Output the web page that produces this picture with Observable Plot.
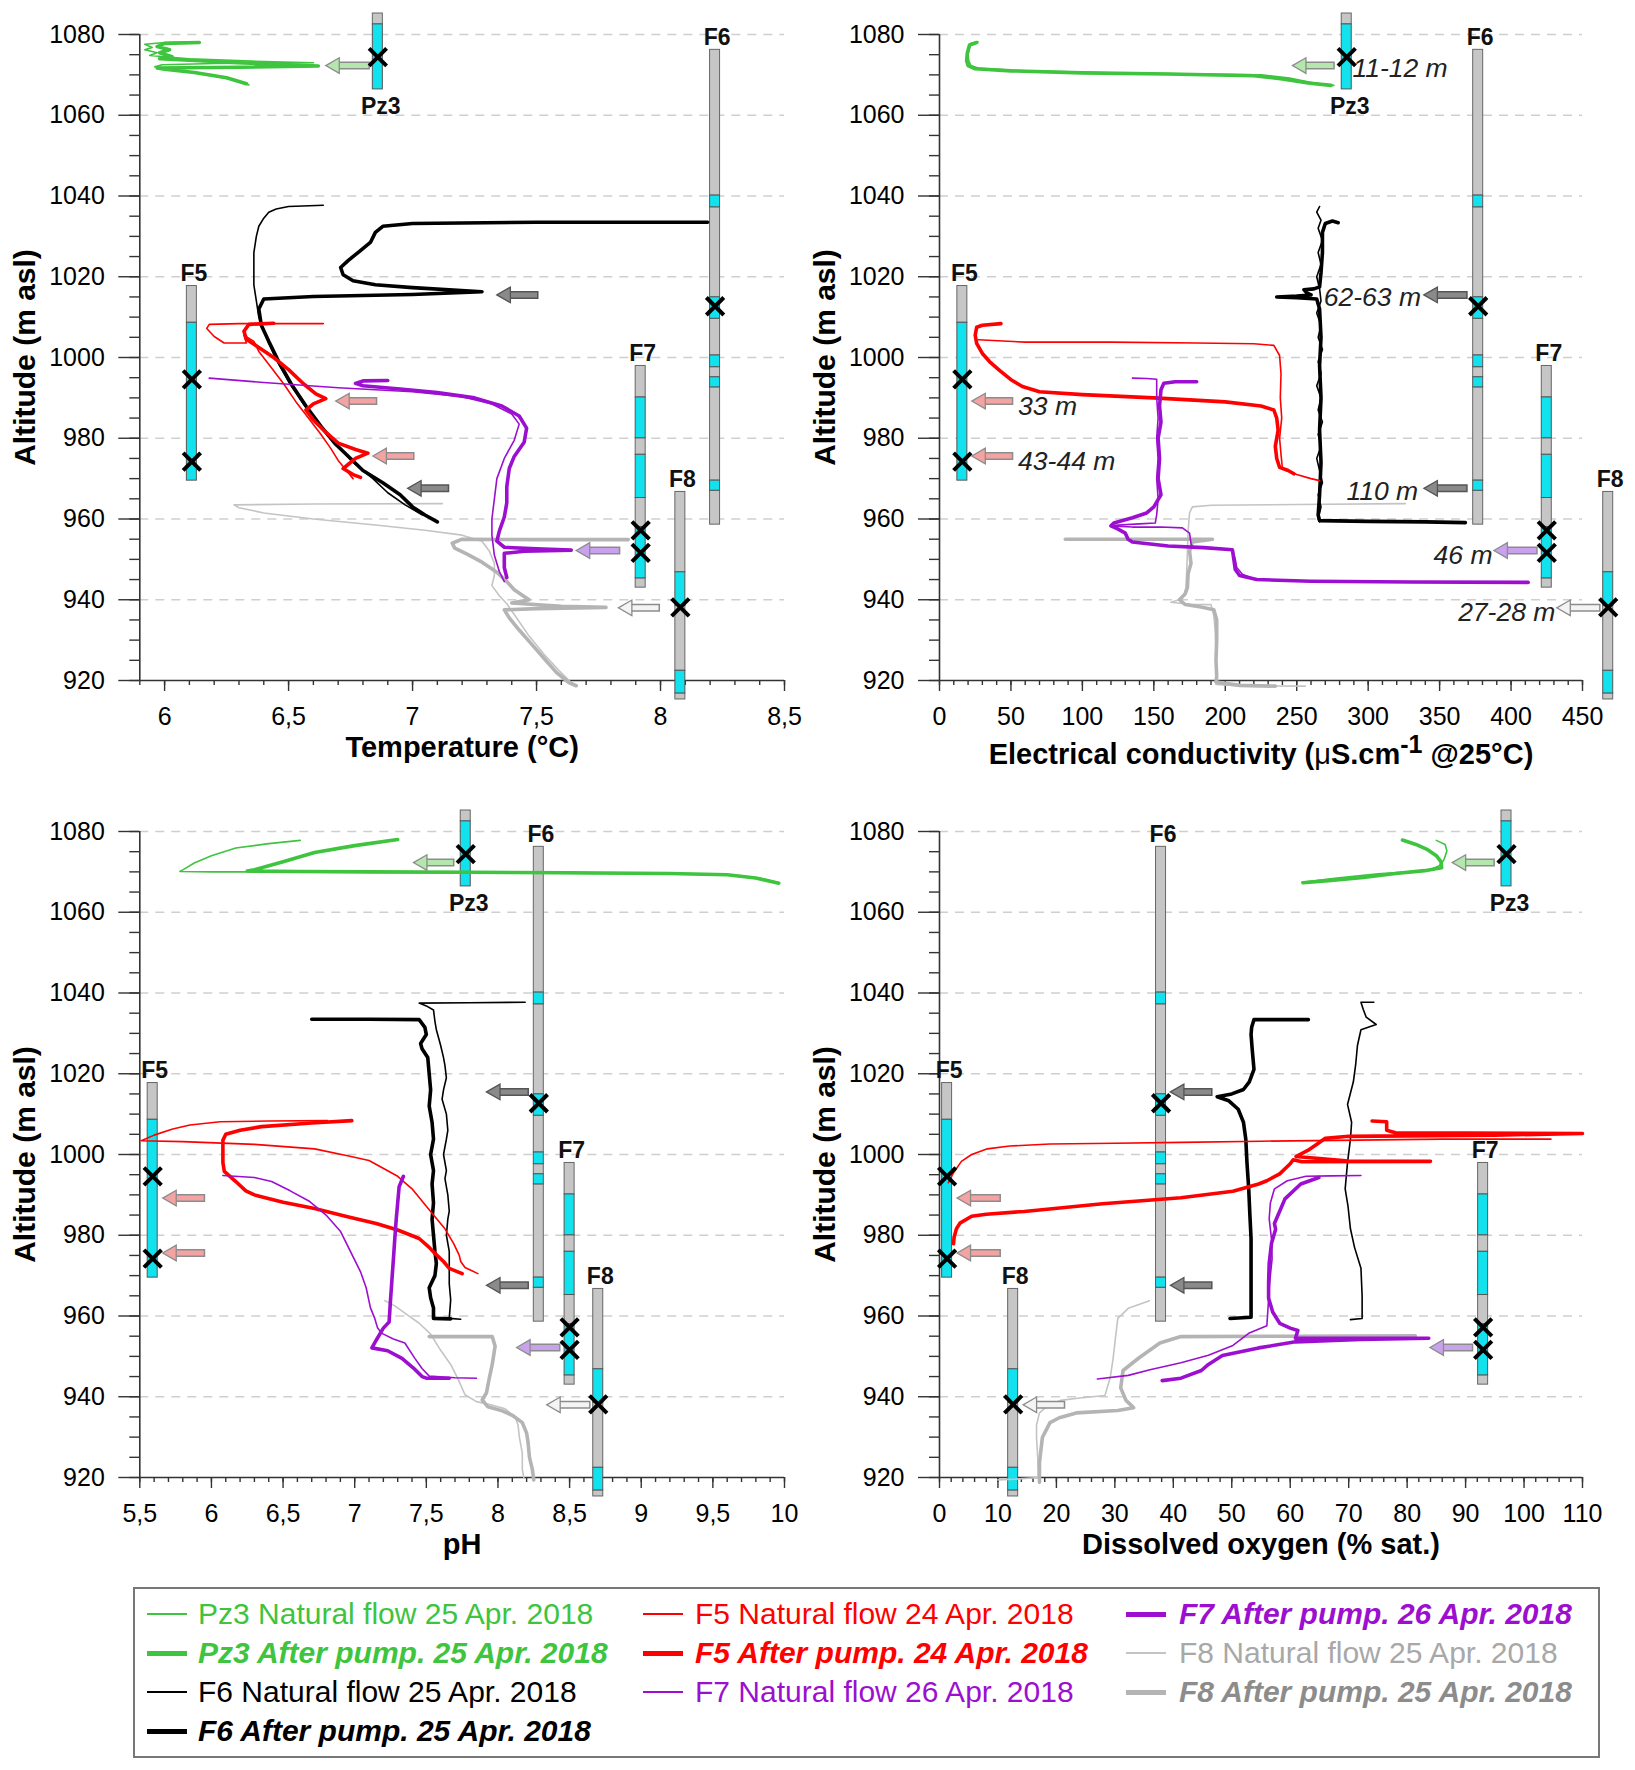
<!DOCTYPE html>
<html><head><meta charset="utf-8">
<script src="https://cdn.jsdelivr.net/npm/d3@7"></script>
<script src="https://cdn.jsdelivr.net/npm/@observablehq/plot@0.6"></script>
<style>
body{margin:0;background:#fff;}
#page{position:relative;width:1635px;height:1770px;background:#fff;font-family:"Liberation Sans",Arial,sans-serif;overflow:hidden;}
.panel{position:absolute;}
.panel svg{overflow:visible;}
#legend{position:absolute;left:133px;top:1587px;width:1467px;height:171px;border:2px solid #777;box-sizing:border-box;}
.lg{position:absolute;height:40px;display:flex;align-items:center;white-space:nowrap;font-size:30px;}
.sw{position:absolute;width:40px;}
</style></head>
<body><div id="page"><div id="legend"></div></div>
<script>
// ---------------- DATA ----------------
const Y_MAJOR = [920, 940, 960, 980, 1000, 1020, 1040, 1060, 1080];
const GRID_ALTS = [940, 960, 980, 1000, 1020, 1040, 1060, 1080];
const T_TICKS = [6, 6.5, 7, 7.5, 8, 8.5];
const E_TICKS = [0, 50, 100, 150, 200, 250, 300, 350, 400, 450];
const P_TICKS = [5.5, 6, 6.5, 7, 7.5, 8, 8.5, 9, 9.5, 10];
const D_TICKS = [0, 10, 20, 30, 40, 50, 60, 70, 80, 90, 100, 110];

const WELLS = ["Pz3", "F5", "F6", "F7", "F8"];
const WELL_SEGMENTS = {
  Pz3: [[1085.2, 1082.5, "g"], [1082.5, 1066.4, "c"]],
  F5: [[1017.7, 1008.6, "g"], [1008.6, 969.5, "c"]],
  F6: [[1076.2, 1040.1, "g"], [1040.1, 1037.2, "c"], [1037.2, 1014.9, "g"], [1014.9, 1009.6, "c"], [1009.6, 1000.5, "g"], [1000.5, 997.6, "c"], [997.6, 995.1, "g"], [995.1, 992.6, "c"], [992.6, 969.5, "g"], [969.5, 967, "c"], [967, 958.6, "g"]],
  F7: [[997.9, 990.1, "g"], [990.1, 980, "c"], [980, 975.9, "g"], [975.9, 965.2, "c"], [965.2, 958, "g"], [958, 945.3, "c"], [945.3, 943, "g"]],
  F8: [[966.7, 946.8, "g"], [946.8, 938.5, "c"], [938.5, 922.4, "g"], [922.4, 916.8, "c"], [916.8, 915.3, "g"]]
};
const WELL_CROSSES = { Pz3: [1074.4], F5: [994.6, 974.2], F6: [1012.7], F7: [957.2, 951.6], F8: [938.1] };
const ARROW_ALTS = { Pz3: [1072.3], F5: [989.2, 975.6], F6: [1015.5, 967.6], F7: [952.2], F8: [938] };

// well positions on each panel's x scale
const T_WELL_X = { Pz3: 6.86, F5: 6.11, F6: 8.22, F7: 7.92, F8: 8.08 };
const E_WELL_X = { Pz3: 285, F5: 16, F6: 377, F7: 425, F8: 468 };
const P_WELL_X = { Pz3: 7.775, F5: 5.59, F6: 8.285, F7: 8.5, F8: 8.7 };
const D_WELL_X = { Pz3: 97, F5: 1.3, F6: 37.9, F7: 93, F8: 12.6 };

// arrows [head, tail] per arrow altitude
const T_ARROWS = { Pz3: [[6.65, 6.83]], F5: [[6.69, 6.86], [6.84, 7.01]], F6: [[7.34, 7.51], [6.98, 7.15]], F7: [[7.66, 7.84]], F8: [[7.83, 8.0]] };
const E_ARROWS = { Pz3: [[247, 277]], F5: [[22.6, 52], [22.6, 52]], F6: [[339, 370], [339, 370]], F7: [[388, 419]], F8: [[432, 463]] };
const P_ARROWS = { Pz3: [[7.41, 7.70]], F5: [[5.66, 5.96], [5.66, 5.96]], F6: [[7.92, 8.22], [7.92, 8.22]], F7: [[8.13, 8.44]], F8: [[8.34, 8.65]] };
const D_ARROWS = { Pz3: [[87.7, 95.1]], F5: [[3.0, 10.6], [3.0, 10.6]], F6: [[39.5, 46.8], [39.5, 46.8]], F7: [[83.9, 91.4]], F8: [[14.3, 21.6]] };

const E_DEPTH_LABELS = [
  ["11-12 m", 289, 1072.3, "start"], ["62-63 m", 337, 1015.5, "end"], ["110 m", 335, 967.6, "end"],
  ["33 m", 55, 988.6, "start"], ["43-44 m", 55, 975, "start"], ["46 m", 387, 951.8, "end"], ["27-28 m", 431, 937.6, "end"]
];

// ---- Temperature profiles [°C, altitude]
const T_Pz3_nat = [[6.14,1078.2],[6.0,1078],[5.92,1077.6],[5.95,1076.8],[5.92,1076.2],[5.97,1075.5],[5.94,1074.8],[6.1,1074],[6.35,1073.4],[6.6,1073],[6.2,1072.8],[5.99,1072.5],[5.96,1072],[6.05,1071.3],[6.18,1070],[6.3,1068.5],[6.34,1067.5]];
const T_Pz3_aft = [[6.14,1078],[6.0,1077.8],[5.97,1077],[6.02,1076.2],[5.98,1075.5],[6.03,1074.5],[5.98,1074],[6.3,1073],[6.62,1072.2],[6.3,1071.9],[5.97,1071.7],[6.0,1071.4],[6.12,1070.6],[6.25,1069.3],[6.33,1067.8]];
const T_F6_nat = [[6.64,1037.7],[6.5,1037.4],[6.45,1036.8],[6.42,1036],[6.4,1034.5],[6.38,1032.5],[6.37,1030],[6.36,1026],[6.36,1022],[6.36,1018],[6.37,1014],[6.38,1010],[6.41,1005],[6.45,999.5],[6.5,994],[6.56,988.5],[6.62,983.5],[6.69,978.5],[6.76,974],[6.84,970],[6.9,966.5],[6.97,963.5],[7.04,961]];
const T_F6_aft = [[8.19,1033.5],[7.5,1033.5],[7.0,1033.2],[6.88,1032.5],[6.85,1031],[6.83,1028.5],[6.78,1026],[6.74,1024],[6.71,1022.3],[6.72,1020.5],[6.76,1019],[6.85,1018],[7.0,1017.3],[7.28,1016.3],[7.0,1015.6],[6.6,1015.1],[6.4,1014.5],[6.38,1012],[6.39,1008],[6.42,1004],[6.46,999],[6.51,993.5],[6.57,988],[6.63,983],[6.69,978.5],[6.75,975],[6.8,972],[6.88,969],[6.95,966],[7.0,963],[7.05,961],[7.1,959.3]];
const T_F5_nat = [[6.64,1008.4],[6.3,1008.4],[6.18,1008.2],[6.17,1007.2],[6.2,1005.2],[6.24,1003.6],[6.33,1003.6],[6.32,1005.5],[6.36,1004],[6.38,1001.5],[6.43,997.5],[6.48,993.5],[6.53,989],[6.58,985],[6.63,981],[6.67,977.5],[6.7,974.5],[6.74,971.5],[6.76,970]];
const T_F5_aft = [[6.44,1008.5],[6.34,1008.2],[6.32,1006.5],[6.33,1004.5],[6.38,1002.5],[6.44,1000],[6.5,997],[6.56,993.5],[6.61,991],[6.65,989.8],[6.6,988.5],[6.57,987],[6.6,984.5],[6.65,981.5],[6.7,978.8],[6.77,977.2],[6.82,976.3],[6.77,975],[6.74,973.5],[6.72,972.5],[6.76,971],[6.79,970.3]];
const T_F7_nat = [[6.18,994.9],[6.4,993.8],[6.7,992.5],[7.0,991.5],[7.2,990.3],[7.32,988.5],[7.4,986],[7.43,983.5],[7.41,979.5],[7.37,975],[7.34,970],[7.33,965],[7.32,960],[7.32,956],[7.33,951],[7.35,947],[7.37,944.5]];
const T_F7_aft = [[6.9,994.3],[6.8,994.2],[6.77,993.6],[6.8,993],[6.95,992.2],[7.1,991.3],[7.25,990],[7.36,988],[7.43,985.5],[7.46,982.5],[7.45,979],[7.41,975.5],[7.39,972.5],[7.38,968],[7.38,964],[7.37,960.5],[7.35,957],[7.34,954.5],[7.37,953],[7.5,952.6],[7.64,952.3],[7.45,952],[7.37,951.5],[7.37,948],[7.38,945.5]];
const T_F8_nat = [[7.12,963.8],[6.6,963.7],[6.28,963.5],[6.3,962.8],[6.4,961.5],[6.6,960],[6.85,958.5],[7.05,957.2],[7.2,956],[7.28,954.5],[7.31,952],[7.33,949],[7.33,946],[7.32,943.5],[7.35,941],[7.38,939],[7.42,935.5],[7.47,931],[7.53,926.5],[7.59,922.5],[7.64,919.5]];
const T_F8_aft = [[7.87,954.9],[7.5,954.9],[7.2,955],[7.16,954],[7.17,952.8],[7.22,951.3],[7.28,949.3],[7.34,946.8],[7.38,944.5],[7.41,942.5],[7.45,940.8],[7.47,940],[7.4,939.2],[7.6,938.4],[7.78,938.1],[7.5,937.8],[7.37,937.5],[7.39,935.5],[7.43,932.5],[7.48,929],[7.53,925.5],[7.58,922],[7.63,919.5],[7.66,918.7]];

// ---- Electrical conductivity profiles [µS/cm, altitude]
const E_Pz3_nat = [[27,1078.2],[22,1077.8],[21,1076.5],[20,1075],[20.5,1073.5],[22,1072.3],[28,1071.6],[60,1071],[120,1070.5],[180,1070.2],[225,1070],[245,1069.2],[262,1068],[276,1067.4]];
const E_Pz3_aft = [[26,1078],[21,1077.4],[19.5,1075.5],[19,1073.5],[20,1072.3],[25,1071.5],[50,1071],[100,1070.5],[160,1070.2],[220,1069.8],[240,1069],[258,1068],[274,1067.4]];
const E_F6_nat = [[266,1037.4],[264,1036],[267,1034],[265,1032],[268,1029],[265,1026],[267,1023],[264,1020],[266,1017],[267,1014],[264,1011],[267,1008],[265,1005],[268,1002],[265,999],[267,996],[264,993],[267,990],[265,987],[268,984],[265,981],[267,978],[264,975],[266,972],[268,969],[265,966],[267,963],[265,960],[266,959.3]];
const E_F6_aft = [[279,1033.4],[275,1033.8],[270,1033.2],[268,1031],[268,1026],[267,1021],[266,1017.5],[262,1017],[255,1016.8],[257,1016],[260,1015.5],[250,1015.2],[236,1015],[250,1014.8],[264,1014.5],[266,1012],[267,1005],[266,998],[267,990],[266,982],[267,974],[266,966],[265,961],[266,959.6],[300,959.4],[340,959.3],[368,959.1]];
const E_F5_nat = [[27,1004.4],[60,1003.8],[120,1003.8],[180,1003.6],[220,1003.4],[234,1003],[238,1000.5],[239,996],[238.5,990],[239.5,985],[238,980],[239,976],[240,972.5],[250,971],[260,970],[266,969.5]];
const E_F5_aft = [[43,1008.4],[30,1008],[26,1007.5],[25,1005.5],[26,1003.5],[30,1001],[35,999],[42,996.8],[50,994.5],[58,992.8],[70,991.5],[100,990.8],[150,990],[200,989],[225,988],[234,987],[236,985],[237,982],[235,978],[236,975],[238,972.8],[244,972],[248,971.2]];
const E_F7_nat = [[135,994.9],[145,994.8],[152,994.6],[152,990],[153,985],[152,980],[153,975],[152,970],[153,965],[152,961],[151,959],[140,958.8],[125,958.5],[120,958.3],[135,958],[155,958],[170,957.8],[175,956.5],[176,954],[177,952.9],[195,952.7],[205,952.5],[207,950],[208,948],[212,946.3],[220,945.2],[235,944.8]];
const E_F7_aft = [[180,994],[165,994],[157,993.6],[155,992],[154,988],[155,984],[153,980],[154,975],[153,970],[155,966],[150,963],[145,961.5],[135,960.3],[122,959],[120,958.3],[125,957.5],[130,956.5],[132,955],[135,954.3],[160,953.3],[185,952.9],[205,952.4],[206,950],[207,947.5],[210,946],[222,945],[260,944.6],[330,944.4],[412,944.3]];
const E_F8_nat = [[326,963.8],[250,963.6],[190,963.4],[177,963],[175,961.5],[174,957],[173.5,952],[173,947],[172.5,943],[171,941],[166,939.8],[162,939.4],[175,938.9],[190,938.8],[192,936],[193,932],[193.5,927],[193.5,922],[193.5,919],[210,918.7],[256,918.6]];
const E_F8_aft = [[88,955],[130,955],[170,955],[191,955],[177,954.3],[175,952],[176,949],[174,946.5],[173.5,943],[172,941.5],[168,940],[172,938.8],[183,938.2],[192,937.5],[194,935],[194,930],[193.5,925],[194,921],[193.5,919.6],[210,918.8],[235,918.6]];

// ---- pH profiles [pH, altitude]
const P_Pz3_nat = [[6.62,1077.8],[6.4,1077],[6.17,1075.9],[6.0,1074],[5.88,1072.2],[5.8,1070.5],[5.78,1070.1],[6.0,1070],[6.5,1070],[7.0,1069.9],[7.8,1069.8],[8.6,1069.6],[9.3,1069.4],[9.63,1069.2],[9.85,1068.3],[9.96,1067.3]];
const P_Pz3_aft = [[7.3,1078],[7.0,1076.5],[6.72,1074.8],[6.5,1072.5],[6.3,1070.5],[6.25,1070.2],[6.6,1070.1],[7.1,1070],[7.8,1069.9],[8.5,1069.8],[9.2,1069.6],[9.6,1069.3],[9.8,1068.5],[9.96,1067.2]];
const P_F6_nat = [[8.19,1037.7],[7.8,1037.6],[7.45,1037.5],[7.5,1036.8],[7.55,1035.8],[7.56,1033],[7.57,1030.9],[7.6,1027],[7.62,1024],[7.63,1022],[7.64,1019],[7.62,1016],[7.61,1013.7],[7.64,1010],[7.65,1006],[7.64,1003.8],[7.62,1000],[7.64,996],[7.63,994],[7.65,990],[7.66,986],[7.65,984],[7.64,980],[7.66,976],[7.66,973],[7.66,968],[7.67,964],[7.66,959.4],[7.74,959.2]];
const P_F6_aft = [[6.7,1033.5],[7.1,1033.5],[7.45,1033.4],[7.49,1031.5],[7.5,1029.7],[7.46,1027.5],[7.47,1026.2],[7.51,1024],[7.52,1020],[7.53,1016],[7.52,1012],[7.54,1008],[7.55,1003.8],[7.53,1000],[7.55,996],[7.54,992.7],[7.55,988],[7.54,984],[7.55,980],[7.56,976],[7.57,973],[7.56,970],[7.52,967],[7.53,964.5],[7.55,962],[7.55,959.4],[7.67,959.3]];
const P_F5_nat = [[6.81,1008.4],[6.4,1008.3],[6.06,1008.1],[5.85,1007.3],[5.73,1006.3],[5.6,1004.8],[5.51,1003.4],[5.8,1003.2],[6.3,1002.5],[6.72,1001.4],[6.95,999.7],[7.1,998.5],[7.3,994.6],[7.4,991.5],[7.47,988.5],[7.55,985],[7.63,981.6],[7.69,978],[7.73,975],[7.74,973.5],[7.77,972],[7.86,970.5]];
const P_F5_aft = [[6.98,1008.4],[6.7,1007.8],[6.35,1006.9],[6.2,1006],[6.1,1005],[6.08,1003.5],[6.08,1001.4],[6.08,998],[6.09,995.8],[6.17,993.3],[6.24,991],[6.3,990],[6.5,988.2],[6.72,986.6],[6.95,984.6],[7.15,982.9],[7.3,981.3],[7.45,979.2],[7.52,977],[7.56,975.5],[7.62,973.5],[7.66,971.8],[7.75,970.5]];
const P_F7_nat = [[6.08,994.8],[6.3,994.3],[6.42,993.3],[6.55,991],[6.68,988.5],[6.8,985],[6.9,981],[6.97,976],[7.04,971],[7.08,967],[7.11,962],[7.14,959.4],[7.16,957],[7.19,955.7],[7.27,954.3],[7.35,953.3],[7.42,949.5],[7.47,947],[7.52,945.1],[7.7,944.7],[7.85,944.6]];
const P_F7_aft = [[7.34,994.6],[7.31,992],[7.3,988],[7.29,984],[7.28,979.2],[7.27,974],[7.26,969],[7.25,964],[7.24,958.5],[7.2,957],[7.15,954],[7.12,952.1],[7.23,951.4],[7.33,949.5],[7.41,947.1],[7.47,945],[7.5,944.6],[7.66,944.6]];
const P_F8_nat = [[7.21,963.8],[7.28,962.5],[7.37,960.2],[7.45,958.2],[7.53,955.5],[7.6,951.5],[7.67,948],[7.72,944.5],[7.77,940.5],[7.85,938.8],[7.95,938],[8.05,937],[8.12,935],[8.14,933],[8.15,929.9],[8.17,926],[8.17,922],[8.18,920]];
const P_F8_aft = [[7.52,954.9],[7.7,954.9],[7.96,954.9],[7.98,952.5],[7.96,948],[7.94,944.7],[7.92,941],[7.89,939.2],[7.93,937.5],[8.03,936.5],[8.1,935.4],[8.17,933.6],[8.2,931],[8.21,928.7],[8.22,925],[8.24,922],[8.25,919.4]];

// ---- Dissolved oxygen profiles [% sat., altitude]
const D_Pz3_nat = [[85,1077.8],[86.5,1076.8],[86.8,1075.2],[86.3,1073],[85.5,1071.5],[84,1070.6],[81,1070.1],[75,1069.5],[68,1068.5],[62,1067.4]];
const D_Pz3_aft = [[79.2,1077.9],[81.5,1076.8],[83.5,1075.5],[85,1074],[85.8,1072.5],[85.9,1071],[83,1070.3],[78,1069.6],[72.5,1068.6],[67,1067.9],[62.2,1067.3]];
const D_F6_nat = [[74.3,1037.7],[72.1,1037.7],[72.5,1035.9],[73,1034],[74.7,1032.2],[72.1,1030.9],[71.5,1027],[71.2,1022.3],[70.8,1018],[69.8,1012.4],[70.5,1008],[70.3,1003.8],[69.8,998],[69.4,991.5],[69.9,987],[70.3,981.6],[71,977],[72.1,971.8],[72.3,965],[72.3,959.4],[70.3,959.1]];
const D_F6_aft = [[63.1,1033.4],[58,1033.4],[53.8,1033.4],[53.4,1031.5],[53.3,1029.7],[53.5,1026],[53.8,1021.1],[53,1018],[52,1016.1],[50,1015],[47.5,1014.3],[49.5,1013.3],[51.1,1011.2],[52,1008],[52.4,1003.8],[52.6,998],[52.9,991.5],[53.1,985],[53.3,979.2],[53.3,973],[53.3,966.8],[53.3,959.7],[49.7,959.4]];
const D_F5_nat = [[1.5,993],[2.4,995.5],[3.75,998.3],[5.5,1000],[8.2,1001.4],[12,1002.1],[18.9,1002.6],[30,1002.8],[41.3,1003],[55,1003.3],[68,1003.5],[85.9,1003.8],[104.6,1003.8]];
const D_F5_aft = [[74,1008.3],[76.5,1008.1],[76.5,1006],[78,1005.4],[90,1005.3],[110,1005.2],[95,1004.8],[70,1004.5],[66,1004],[64.5,1002.5],[63,1001],[61,999.5],[70,998.4],[84,998.3],[62,998.2],[60.5,998.7],[60,997.7],[58.2,995.2],[56,993.5],[54.6,992.7],[50.2,990.9],[41.3,989.3],[27.9,987.8],[14.5,985.9],[8,985.2],[5.5,984.7],[3.5,983],[2.9,981.6],[2.5,979.5],[2.4,977.9]];
const D_F7_nat = [[72.1,994.8],[67,994.7],[62.7,994.6],[59.5,993.5],[57.3,991.5],[56.6,988],[56.4,984.1],[56.8,979],[56.9,974.2],[56.6,970],[56.4,966.8],[56.2,962],[56,957.6],[52.9,955.7],[50.2,952.7],[46,950.3],[41.3,948.4],[36,946.7],[32.3,945.3],[27,944.4]];
const D_F7_aft = [[64.9,994.3],[61.8,992.7],[59.1,989],[57.3,982.9],[57.5,981.5],[56.8,978],[56.4,973],[56.3,968],[56.3,964.4],[57,961],[58.2,958.2],[60,957],[61.3,956.4],[60.9,954.5],[72,954.5],[83.7,954.5],[72,954.2],[60.9,953.6],[54.6,952.1],[48.4,950.2],[46,948],[44.8,946.5],[41.3,944.6],[38.1,944]];
const D_F8_nat = [[35.9,963.8],[34,962.8],[32.3,961.9],[30.5,959.4],[30.1,954.5],[29.7,949.5],[29.2,944.7],[28.3,940.3],[24,939.7],[20.7,939.1],[18.5,937.8],[17.1,936],[16.6,933],[16.6,929.9],[16.8,925],[16.9,920],[13,919.6],[10,919.4]];
const D_F8_aft = [[81.4,955.1],[60,955],[41.3,954.9],[37.7,953.3],[34.1,949.6],[31.4,946.5],[31,942.2],[31.9,939.1],[33.2,937.3],[30.5,936.6],[23.4,936],[20.5,934.8],[18.9,933.6],[17.6,929.9],[17.1,923.7],[17.1,918.8]];

const LEGEND_ITEMS = [
  ["Pz3 Natural flow 25 Apr. 2018", "Pz3", "nat"], ["Pz3 After pump. 25 Apr. 2018", "Pz3", "aft"],
  ["F6 Natural flow 25 Apr. 2018", "F6", "nat"], ["F6 After pump. 25 Apr. 2018", "F6", "aft"],
  ["F5 Natural flow 24 Apr. 2018", "F5", "nat"], ["F5 After pump. 24 Apr. 2018", "F5", "aft"],
  ["F7 Natural flow 26 Apr. 2018", "F7", "nat"], ["F7 After pump. 26 Apr. 2018", "F7", "aft"],
  ["F8 Natural flow 25 Apr. 2018", "F8", "nat"], ["F8 After pump. 25 Apr. 2018", "F8", "aft"]
];

// ---------------- STYLE ----------------
const COLORS = { Pz3: "#3ec43e", F5: "#ff0000", F6: "#000000", F7: "#9c0fd0", F8: "#bcbcbc" };
const LEGEND_TEXT = { Pz3: "#3ec43e", F5: "#ff0000", F6: "#000000", F7: "#9c0fd0", F8nat: "#a8a8a8", F8aft: "#8c8c8c" };
const ARROW_FILL = { Pz3: "#b4e6ad", F5: "#f4a3a3", F6: "#8a8a8a", F7: "#c9a2ee", F8: "#f4f4f4" };
const ARROW_EDGE = { Pz3: "#8c8c8c", F5: "#8c8c8c", F6: "#555555", F7: "#8c8c8c", F8: "#8c8c8c" };
const CYAN = "#12e2ee", GRAY = "#c6c6c6";
const FONT = "'Liberation Sans', Arial, sans-serif";
const EC_TITLE = "Electrical conductivity (μS.cm-1 @25°C)";
const comma = d => String(d).replace(".", ",");

const PANELS = [
  { left: 0, top: 0, width: 817, ml: 139.3, mr: 33, domain: [5.9, 8.5], ticks: T_TICKS, minor: d3.range(59, 86).map(d => d / 10), fmt: comma,
    title: "Temperature (°C)", titleDy: 67, wellX: T_WELL_X, arrows: T_ARROWS,
    series: { F8: [T_F8_nat, T_F8_aft], F6: [T_F6_nat, T_F6_aft], F5: [T_F5_nat, T_F5_aft], F7: [T_F7_nat, T_F7_aft], Pz3: [T_Pz3_nat, T_Pz3_aft] } },
  { left: 817, top: 0, width: 818, ml: 122, mr: 53, domain: [0, 450], ticks: E_TICKS, minor: d3.range(0, 451, 10), fmt: d => String(d),
    title: EC_TITLE, titleDy: 74, wellX: E_WELL_X, arrows: E_ARROWS, depthLabels: E_DEPTH_LABELS,
    series: { F8: [E_F8_nat, E_F8_aft], F6: [E_F6_nat, E_F6_aft], F5: [E_F5_nat, E_F5_aft], F7: [E_F7_nat, E_F7_aft], Pz3: [E_Pz3_nat, E_Pz3_aft] } },
  { left: 0, top: 796.5, width: 817, ml: 139.3, mr: 33, domain: [5.5, 10], ticks: P_TICKS, minor: d3.range(55, 101).map(d => d / 10), fmt: comma,
    title: "pH", titleDy: 67, wellX: P_WELL_X, arrows: P_ARROWS,
    series: { F8: [P_F8_nat, P_F8_aft], F6: [P_F6_nat, P_F6_aft], F5: [P_F5_nat, P_F5_aft], F7: [P_F7_nat, P_F7_aft], Pz3: [P_Pz3_nat, P_Pz3_aft] } },
  { left: 817, top: 796.5, width: 818, ml: 122, mr: 53, domain: [0, 110], ticks: D_TICKS, minor: d3.range(0, 111, 2), fmt: d => String(d),
    title: "Dissolved oxygen (% sat.)", titleDy: 67, wellX: D_WELL_X, arrows: D_ARROWS,
    series: { F8: [D_F8_nat, D_F8_aft], F6: [D_F6_nat, D_F6_aft], F5: [D_F5_nat, D_F5_aft], F7: [D_F7_nat, D_F7_aft], Pz3: [D_Pz3_nat, D_Pz3_aft] } }
];

function buildPanel(cfg) {
  const [x0, x1] = cfg.domain;
  const yMinor = d3.range(920, 1081, 5);
  const segs = [], crosses = [], arrows = [], labelsAbove = [], labelsBelow = [];
  for (const w of WELLS) {
    const wx = cfg.wellX[w];
    for (const [top, bot, k] of WELL_SEGMENTS[w]) segs.push({ x: wx, top, bot, k });
    for (const a of WELL_CROSSES[w]) crosses.push({ x: wx, y: a });
    ARROW_ALTS[w].forEach((alt, i) => {
      const [head, tail] = cfg.arrows[w][i];
      arrows.push({ head, tail, alt, fill: ARROW_FILL[w], edge: ARROW_EDGE[w] });
    });
    const s = WELL_SEGMENTS[w];
    if (w === "Pz3") labelsBelow.push({ x: wx, y: s[s.length - 1][1], t: w });
    else labelsAbove.push({ x: wx, y: s[0][0], t: w });
  }
  const marks = [
    Plot.ruleY(GRID_ALTS, { x1: x0, x2: x1, stroke: "#cfcfcf", strokeWidth: 1.3, strokeDasharray: "9,7" }),
    Plot.axisY({ ticks: yMinor, tickSize: 10, tickFormat: () => "", stroke: "#333", strokeWidth: 1.4, label: null }),
    Plot.axisY({ ticks: Y_MAJOR, tickSize: 21, tickPadding: 14, fontSize: 25, tickFormat: d => String(d), stroke: "#333", strokeWidth: 1.4, fill: "#000", label: null }),
    Plot.axisX({ ticks: cfg.minor, tickSize: 5, tickFormat: () => "", stroke: "#333", strokeWidth: 1.4, label: null }),
    Plot.axisX({ ticks: cfg.ticks, tickSize: 11, tickPadding: 16, fontSize: 25, tickFormat: cfg.fmt, stroke: "#333", strokeWidth: 1.4, fill: "#000", label: null }),
    Plot.ruleX([x0], { y1: 920, y2: 1080, stroke: "#333", strokeWidth: 1.6 }),
    Plot.ruleY([920], { x1: x0, x2: x1, stroke: "#333", strokeWidth: 1.6 }),
    Plot.rect(segs.filter(d => d.k === "g"), { x1: "x", x2: "x", y1: "top", y2: "bot", insetLeft: -5, insetRight: -5, fill: GRAY, stroke: "#666", strokeWidth: 1 }),
    Plot.rect(segs.filter(d => d.k === "c"), { x1: "x", x2: "x", y1: "top", y2: "bot", insetLeft: -5, insetRight: -5, fill: CYAN, stroke: "#555", strokeWidth: 1 })
  ];
  for (const w of Object.keys(cfg.series)) {
    const [nat, aft] = cfg.series[w];
    const c = w === "F8" ? "#c4c4c4" : COLORS[w];
    marks.push(Plot.line(nat, { x: d => d[0], y: d => d[1], stroke: c, strokeWidth: 1.6, strokeLinejoin: "round" }));
    marks.push(Plot.line(aft, { x: d => d[0], y: d => d[1], stroke: w === "F8" ? "#b4b4b4" : c, strokeWidth: 3.6, strokeLinejoin: "round" }));
  }
  marks.push(
    Plot.ruleY(arrows, { y: "alt", x1: "head", x2: "tail", stroke: "edge", strokeWidth: 8, insetLeft: 9 }),
    Plot.ruleY(arrows, { y: "alt", x1: "head", x2: "tail", stroke: "fill", strokeWidth: 5, insetLeft: 8, insetRight: 1.5 }),
    Plot.dot(arrows, { x: "head", y: "alt", symbol: "triangle", r: 5.8, rotate: -90, dx: 9, fill: "fill", stroke: "edge", strokeWidth: 1.3 }),
    Plot.dot(crosses, { x: "x", y: "y", symbol: "times", r: 8, stroke: "#000", strokeWidth: 4 }),
    Plot.text(labelsAbove, { x: "x", y: "y", text: "t", dy: -12, dx: 2, lineAnchor: "middle", fontSize: 23, fontWeight: "bold", fill: "#111" }),
    Plot.text(labelsBelow, { x: "x", y: "y", text: "t", dy: 17, dx: 3, lineAnchor: "middle", fontSize: 23, fontWeight: "bold", fill: "#111" })
  );
  if (cfg.depthLabels) {
    const L = cfg.depthLabels.map(([t, x, y, a]) => ({ t, x, y, a }));
    marks.push(
      Plot.text(L.filter(d => d.a === "start"), { x: "x", y: "y", text: "t", textAnchor: "start", lineAnchor: "middle", dy: 3, fontSize: 26.5, fontStyle: "italic", fill: "#222" }),
      Plot.text(L.filter(d => d.a === "end"), { x: "x", y: "y", text: "t", textAnchor: "end", lineAnchor: "middle", dy: 3, fontSize: 26.5, fontStyle: "italic", fill: "#222" })
    );
  }
  marks.push(
    Plot.text(["Altitude (m asl)"], { text: d => d, frameAnchor: "left", textAnchor: "middle", lineAnchor: "middle", dx: -114, rotate: -90, fontSize: 30, fontWeight: "bold", fill: "#000" }),
    Plot.text([cfg.title], { text: d => d, frameAnchor: "bottom", textAnchor: "middle", lineAnchor: "middle", dy: cfg.titleDy, fontSize: 29, fontWeight: "bold", fill: "#000" })
  );
  const svg = Plot.plot({
    width: cfg.width, height: 786,
    marginLeft: cfg.ml, marginRight: cfg.mr, marginTop: 34, marginBottom: 106,
    x: { domain: cfg.domain }, y: { domain: [920, 1080] },
    style: { fontFamily: FONT, background: "transparent", overflow: "visible" },
    marks
  });
  // superscript for EC unit
  svg.querySelectorAll("text").forEach(t => {
    if (t.textContent === EC_TITLE) {
      const ns = "http://www.w3.org/2000/svg";
      while (t.firstChild) t.removeChild(t.firstChild);
      const add = (s, attrs = {}) => { const ts = document.createElementNS(ns, "tspan"); ts.textContent = s; for (const k in attrs) ts.setAttribute(k, attrs[k]); t.appendChild(ts); };
      add("Electrical conductivity (");
      add("μ", { "font-weight": "normal" });
      add("S.cm");
      add("-1", { dy: -11, "font-size": 25 });
      add(" @25°C)", { dy: 11 });
    }
  });
  const div = document.createElement("div");
  div.className = "panel";
  div.style.left = cfg.left + "px";
  div.style.top = cfg.top + "px";
  div.appendChild(svg);
  document.getElementById("page").appendChild(div);
}
PANELS.forEach(buildPanel);

// ---------------- LEGEND ----------------
const LEG_COLS = [{ line: 147, text: 198 }, { line: 643, text: 695 }, { line: 1126, text: 1179 }];
const LEG_ROWS = [1614, 1653, 1692, 1731];
const LEG_LAYOUT = [[0, 0], [0, 1], [0, 2], [0, 3], [1, 0], [1, 1], [1, 2], [2, 0], [2, 1], [2, 2]];
const page = document.getElementById("page");
LEGEND_ITEMS.forEach(([label, w, kind], i) => {
  const [c, r] = LEG_LAYOUT[i];
  const y = LEG_ROWS[r];
  const lineColor = w === "F8" ? (kind === "nat" ? "#c4c4c4" : "#b4b4b4") : COLORS[w];
  const textColor = w === "F8" ? LEGEND_TEXT["F8" + kind] : LEGEND_TEXT[w];
  const h = kind === "nat" ? 2 : 5;
  const sw = document.createElement("div");
  sw.className = "sw";
  sw.style.left = LEG_COLS[c].line + "px";
  sw.style.top = (y - h / 2) + "px";
  sw.style.height = h + "px";
  sw.style.background = lineColor;
  page.appendChild(sw);
  const tx = document.createElement("div");
  tx.className = "lg";
  tx.style.left = LEG_COLS[c].text + "px";
  tx.style.top = (y - 20) + "px";
  tx.style.color = textColor;
  if (kind === "aft") { tx.style.fontWeight = "bold"; tx.style.fontStyle = "italic"; }
  tx.textContent = label;
  page.appendChild(tx);
});
</script>
</body></html>
